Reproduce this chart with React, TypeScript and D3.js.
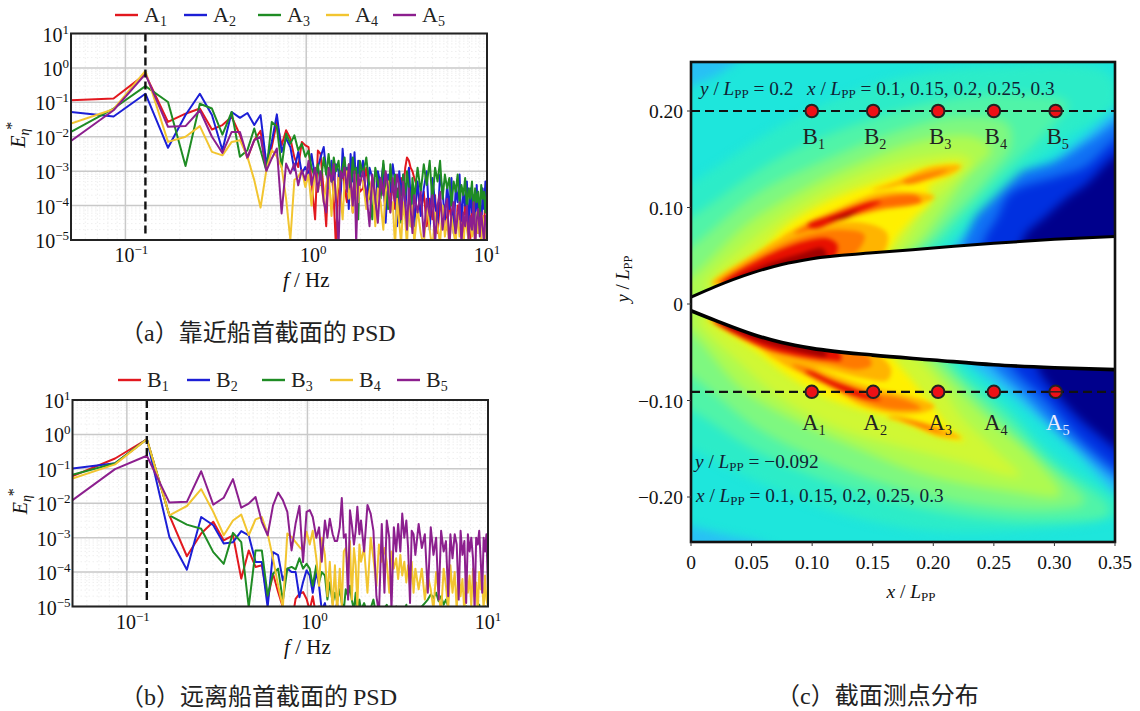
// App.tsx - wave energy spectra (a, b) and the wake map with probe positions (c)
import React from 'react';
import * as d3 from 'd3';

const SERIF = '"Liberation Serif", "Times New Roman", serif';
const CJK = '"Noto Sans CJK SC", sans-serif';

// --- Spectrum data: frequency in Hz, values as log10(E*) ---
const freqHz = [
  0.05, 0.086, 0.129, 0.172, 0.215, 0.258, 0.301, 0.344, 0.387, 0.43, 0.473, 0.516, 0.559, 0.602, 0.645, 0.688, 0.731, 0.774, 0.817, 0.86, 0.903, 0.946, 0.989,
  1.03, 1.07, 1.12, 1.16, 1.2, 1.25, 1.29, 1.33, 1.38, 1.42, 1.46, 1.51, 1.55, 1.59, 1.63, 1.68, 1.72, 1.76, 1.81, 1.85, 1.89, 1.94, 1.98,
  2.06, 2.15, 2.24, 2.32, 2.41, 2.49, 2.58, 2.67, 2.75, 2.84, 2.92, 3.01, 3.1, 3.18, 3.27, 3.35, 3.44, 3.53, 3.61, 3.7, 3.78, 3.87, 3.96,
  4.13, 4.3, 4.47, 4.64, 4.82, 4.99, 5.16, 5.33, 5.5, 5.68, 5.85, 6.02, 6.19, 6.36, 6.54, 6.71, 6.88, 7.05, 7.22, 7.4, 7.57, 7.74, 7.91, 8.08, 8.26, 8.43, 8.6, 8.77, 8.94, 9.12, 9.29, 9.46, 9.63, 9.8, 10,
];

const a1 = [-0.94, -0.89, -0.18, -1.57, -1.33, -1.18, -1.79, -1.66, -1.42, -1.95, -2.63, -2.1, -1.83, -2.97, -2.3, -1.57, -2.25, -1.81, -2.05, -2.6, -2.88, -2.15, -2.25,
  -2.3, -3.3, -4.4, -2.4, -2.5, -3.6, -4.6, -3, -2.9, -3.8, -5.2, -3.1, -3.3, -2.9, -3.5, -3.9, -3, -3.2, -4.2, -2.8, -3.4, -3.1, -3.6,
  -3.5, -2.9, -3.8, -3.2, -4, -3.1, -3.7, -3.3, -4.3, -3.2, -3.9, -3.3, -4.1, -3.5, -4.5, -3.2, -3.6, -2.9, -2.6, -2.7, -2.9, -3, -3.2,
  -3.5, -4.2, -3.6, -4.6, -3.8, -4.4, -3.7, -4.8, -3.9, -4.3, -4, -4.7, -3.8, -4.5, -4.1, -4.9, -4, -4.4, -4.2, -4.8, -3.9, -4.5, -4.3, -5, -4, -4.6, -4.2, -4.4, -4.8, -3.9, -4.6, -4.3, -4.9, -3.5, -4.2];
const a2 = [-1.28, -1.41, -0.75, -2.32, -1.37, -0.75, -1.37, -2.39, -1.28, -1.45, -1.31, -1.66, -1.37, -2.78, -2.15, -1.35, -2.44, -2.05, -2.3, -2.97, -2.44, -3.07, -2.88,
  -3.1, -2.5, -3.2, -2.9, -2.6, -2.3, -3, -3.5, -2.7, -3.4, -2.8, -3, -3.8, -2.35, -3.1, -2.9, -4.1, -2.5, -3.3, -2.45, -3.6, -2.7, -3.2,
  -2.7, -3.9, -2.9, -3.2, -4.3, -3, -3.4, -2.8, -4.5, -3.1, -3.6, -2.8, -3.3, -4.6, -3, -3.7, -3.1, -4.2, -3.3, -2.9, -3.8, -3.4, -4.6,
  -3.3, -4.3, -3.5, -3, -4.7, -3.2, -3.9, -4.5, -3.1, -3.6, -4.4, -3.4, -4.1, -3.2, -4.8, -3.5, -3.9, -3.1, -4.6, -3.6, -4, -3.3, -4.9, -3.5, -4.2, -3.7, -4.6, -3.4, -4.3, -3.8, -4.8, -3.5, -4.1, -3.3, -3.9];
const a3 = [-1.86, -1.18, -0.53, -0.99, -2.85, -1.04, -1.18, -1.94, -1.28, -2.58, -2.39, -1.76, -2.39, -2.99, -1.57, -1.71, -2.88, -1.91, -2.2, -1.96, -2.39, -2.2, -2.58,
  -2.4, -2.9, -3.2, -2.8, -3.4, -2.6, -3.1, -2.5, -3.3, -2.6, -3, -2.7, -3.3, -2.9, -2.6, -3.4, -2.8, -3.6, -2.6, -3.2, -2.9, -4.4, -2.7,
  -3.1, -2.6, -3.5, -4.4, -2.9, -3.3, -3.8, -2.7, -3.4, -4.1, -2.8, -3.6, -3.1, -3.9, -3.4, -4.5, -3.1, -3.7, -3, -3.5, -4.6, -3.2, -3.8,
  -2.9, -3.6, -2.8, -3.4, -2.7, -3.9, -2.9, -3.3, -2.7, -3.8, -3.1, -3.5, -3.2, -4, -3.3, -3.6, -3.1, -3.9, -3.4, -3.7, -3.2, -4.1, -3.5, -3.8, -3.3, -4.2, -3.5, -3.9, -3.6, -4.3, -3.4, -3.8, -3.6, -4.2, -3.5];
const a4 = [-1.62, -1.2, -0.09, -2.15, -2, -1.69, -2.44, -2.54, -2.15, -2.1, -2.58, -3.26, -4.06, -2.97, -2.39, -2.58, -2.88, -3.8, -5, -3.26, -3.16, -2.97, -3.46,
  -3.1, -4, -3, -3.6, -3.2, -3.9, -3.4, -3, -4.3, -3.3, -3.9, -3.2, -3.7, -4.4, -3.3, -3, -3.8, -3.5, -4.2, -3.1, -3.6, -3.9, -3.2,
  -3.3, -4.1, -3.6, -3.2, -4.6, -3.5, -3.9, -4.7, -3.6, -3.3, -4.2, -3.9, -5.2, -3.8, -4.5, -5.1, -3.9, -4.4, -5.2, -3.7, -4.6, -4, -5.1,
  -4.1, -4.8, -5.2, -3.9, -4.7, -5.3, -4.2, -4.6, -5.1, -4, -4.9, -4.4, -5.2, -4.3, -4.8, -5.1, -4.2, -4.9, -4.5, -5.3, -4.3, -4.7, -5, -4.4, -4.9, -4.5, -5.2, -4.2, -4.8, -4.6, -5.1, -4.3, -4.7, -5, -4.4];
const a5 = [-2.12, -1.23, -0.18, -1.71, -1.69, -1.23, -2, -2.47, -1.86, -1.86, -2.6, -2.1, -2, -2.99, -2.63, -2.34, -4.23, -2.78, -3.07, -2.78, -3.41, -2.97, -3.26,
  -2.7, -3.4, -2.9, -3.6, -3, -3.9, -4.2, -2.9, -3.3, -2.8, -3.8, -5.2, -3, -3.2, -2.9, -3.6, -2.8, -3.3, -4, -3, -5.1, -3.1, -3.4,
  -3, -3.6, -4.6, -3.1, -3.8, -4.5, -3.2, -3.7, -3, -3.5, -4.2, -3.2, -3.9, -3.1, -3.4, -4.4, -3.3, -3.9, -4.7, -3.5, -4.1, -4.8, -3.7,
  -4.2, -3.6, -4.9, -3.8, -4.3, -3.7, -5.1, -4, -3.6, -4.7, -4.1, -3.8, -5.2, -4.2, -3.9, -4.8, -4.3, -3.9, -5.1, -4.2, -4.6, -4, -5, -4.3, -4.7, -3.9, -5.2, -4.4, -4.1, -4.9, -4.2, -4.6, -5.1, -4.3, -4.5];

const b1 = [-1.21, -0.7, -0.14, -2.35, -3.54, -2.88, -2.54, -3.08, -2.93, -4.19, -3.37, -3.85, -3.8, -4.78, -4.05, -4.58, -5.02, -5.4, -5.5, -4.78, -4.63, -4.58, -4.78,
  -5.1, -4.7, -5.3, -5, -5.4, -5.6, -5.2, -5.5, -5.1, -5.6, -5.3, -5.5, -5.7, -5.2, -5.6, -5.4, -5.3, -5.6, -5.1, -5.5, -5.6, -5.3, -5.5,
  -5.6, -5.2, -5.7, -5.4, -5.6, -5.3, -5.7, -5.5, -5.6, -5.4, -5.7, -5.5, -5.6, -5.7, -5.4, -5.6, -5.7, -5.5, -5.6, -5.7, -5.4, -5.6, -5.7,
  -5.5, -5.7, -5.6, -5.5, -5.7, -5.6, -5.7, -5.5, -5.6, -5.7, -5.6, -5.5, -5.7, -5.6, -5.7, -5.5, -5.6, -5.7, -5.6, -5.5, -5.7, -5.6, -5.7, -5.5, -5.6, -5.7, -5.6, -5.5, -5.7, -5.6, -5.7, -5.5, -5.6, -5.7, -5.6];
const b2 = [-0.99, -0.84, -0.14, -2.98, -3.93, -2.4, -2.64, -3.17, -3.13, -2.81, -2.93, -3.71, -3.71, -5.02, -3.42, -3.51, -4.24, -3.9, -4, -4, -4.73, -4.29, -3.95,
  -4.1, -4.6, -4, -4.4, -5.1, -4.9, -5.3, -5, -5.4, -5.2, -4.9, -5.4, -5, -4.95, -5.3, -5.5, -5.1, -5.4, -5, -5.3, -5.5, -5.2, -5.4,
  -5.6, -5.3, -5.5, -5.6, -5.4, -5.7, -5.5, -5.6, -5.7, -5.4, -5.6, -5.7, -5.5, -5.6, -5.7, -5.4, -5.6, -5.7, -5.5, -5.6, -5.7, -5.4, -5.6,
  -5.7, -5.5, -5.6, -5.7, -5.6, -5.5, -5.7, -5.6, -5.7, -5.5, -5.6, -5.7, -5.6, -5.5, -5.7, -5.6, -5.7, -5.5, -5.6, -5.7, -5.6, -5.5, -5.7, -5.6, -5.7, -5.5, -5.6, -5.7, -5.6, -5.5, -5.7, -5.6, -5.7, -5.5, -5.6];
const b3 = [-1.17, -0.84, -0.14, -2.35, -2.62, -2.74, -3.42, -3.76, -2.86, -3.13, -5.02, -3.37, -3.37, -4.68, -4.05, -3.9, -4.83, -3.9, -3.85, -3.92, -3.6, -3.9, -3.76,
  -3.9, -4.4, -3.8, -4.3, -4, -4.1, -4.8, -4.3, -4.9, -4.6, -4.85, -4.5, -4.9, -5.1, -4.5, -4.7, -4.4, -4.8, -5.1, -4.6, -5.2, -4.8, -5.1,
  -4.9, -5.2, -5.05, -4.8, -5.3, -5, -5.2, -5.05, -4.95, -5.3, -5.1, -5.2, -5, -5.3, -5.05, -5.2, -5.1, -4.95, -5.3, -5.1, -5.2, -5.05, -5.3,
  -5.2, -5, -4.9, -4.8, -4.65, -4.75, -4.6, -4.85, -4.7, -4.95, -4.8, -5, -5.2, -5.05, -5.3, -5.1, -5.2, -5.05, -5.3, -5.1, -5, -5.2, -5.3, -5.05, -5.2, -5.1, -5.3, -5.05, -4.95, -5.2, -5.1, -5.3, -5, -5.2, -5.1];
const b4 = [-1.28, -0.87, -0.14, -2.35, -2.08, -1.59, -2.25, -2.93, -2.5, -2.33, -2.93, -2.47, -2.4, -2.88, -3.61, -4.39, -5.02, -2.88, -2.98, -3.13, -3.27, -3.37, -2.83,
  -3.2, -2.8, -3.6, -4.4, -3, -3.5, -4.7, -3.7, -5.1, -3.8, -5.2, -3.9, -5, -3.4, -3.3, -3.9, -3.1, -4.8, -3.3, -3.8, -5, -3.2, -3.7,
  -3.3, -4.6, -3, -3.6, -4.4, -3.2, -3.7, -3.3, -3.7, -4.6, -3.4, -3.9, -3.6, -4.2, -3.5, -4.1, -3.7, -4.3, -3.8, -4.4, -3.7, -4.6, -3.9,
  -4.5, -3.9, -4.8, -4.1, -4.5, -5.1, -4, -4.6, -5.2, -3.9, -4.4, -5.1, -3.8, -4.6, -4, -5.1, -3.9, -4.7, -4.2, -5.2, -4, -4.6, -4.1, -5, -3.9, -4.7, -4.3, -5.2, -4, -4.5, -4.3, -5.1, -4.1, -4.8, -5];
const b5 = [-1.91, -1.01, -0.62, -1.98, -1.96, -1.07, -2.04, -1.84, -1.3, -2.13, -2.01, -1.82, -2.54, -2.93, -2.06, -1.69, -1.91, -2.25, -3.37, -2.59, -2.08, -3.71, -2.25,
  -2.2, -2.4, -3, -2.7, -3.7, -2.5, -3, -2.45, -2.9, -3.1, -3.1, -2.7, -1.85, -3, -2.9, -4.8, -2.2, -2.6, -3.2, -2.8, -2.1, -2.9, -2.5,
  -3.4, -2.05, -2.3, -2.8, -4.7, -5.2, -2.6, -4.6, -2.5, -3, -5.1, -2.7, -3.4, -2.6, -3.4, -2.3, -3, -2.5, -3.3, -4.9, -2.8, -2.9, -3.5,
  -2.6, -3.3, -2.9, -4.6, -2.7, -3.5, -3, -4.8, -2.8, -3.4, -3.1, -4.7, -2.9, -3.6, -2.9, -3.2, -4.8, -2.8, -3.5, -3.1, -4.9, -2.9, -3.4, -3, -3.6, -5.1, -3, -3.2, -2.8, -3.7, -4.6, -3, -3.4, -2.9, -4.5];

const panelAValues = [a1, a2, a3, a4, a5];
const panelBValues = [b1, b2, b3, b4, b5];
const seriesColors = ['#e2181f', '#1c1fd6', '#1f8c24', '#f2c530', '#8c1f8e'];
const decadesX = [0.1, 1, 10];
const decadeLabelNudge = [6, 7, 0];
const decadesY = [1e-5, 1e-4, 1e-3, 1e-2, 1e-1, 1, 10];
const peakFreq = 0.129;

// --- Wake map data, x / Lpp and y / Lpp ---
const hullX = [0, 0.02, 0.05, 0.075, 0.1, 0.15, 0.2, 0.25, 0.3, 0.35];
const hullUpper = [0.007, 0.018, 0.032, 0.041, 0.047, 0.053, 0.058, 0.063, 0.067, 0.07];
const hullLower = [-0.007, -0.017, -0.031, -0.04, -0.046, -0.053, -0.058, -0.063, -0.066, -0.068];
const probeX = [0.0997, 0.1504, 0.204, 0.25, 0.301];
const probeRowB = 0.2;
const probeRowA = -0.091;
const xTicks = [0, 0.05, 0.1, 0.15, 0.2, 0.25, 0.3, 0.35];
const xTickLabels = ['0', '0.05', '0.10', '0.15', '0.20', '0.25', '0.30', '0.35'];
const yTicks = [0.2, 0.1, 0, -0.1, -0.2];
const yTickLabels = ['0.20', '0.10', '0', '\u22120.10', '\u22120.20'];

type Pt = [number, number];
// wide isobands, outermost first; each one is painted over the previous
const wideBands: [string, Pt[]][] = [
  ['#28c0f4', [[-0.03, 0.222], [0.012, 0.232], [0.036, 0.25], [0.06, 0.28], [-0.03, 0.28]]],
  ['#28c0f4', [[-0.03, -0.23], [0.03, -0.24], [0.07, -0.255], [0.08, -0.28], [-0.03, -0.28]]],
  // blue side, upper
  ['#28b8f8', [[0.37, 0.21], [0.32, 0.168], [0.292, 0.14], [0.258, 0.108], [0.22, 0.063], [0.205, 0.03], [0.37, 0.03]]],
  ['#1070f4', [[0.37, 0.198], [0.33, 0.17], [0.303, 0.149], [0.264, 0.132], [0.242, 0.104], [0.226, 0.066], [0.22, 0.03], [0.37, 0.03]]],
  ['#0030e0', [[0.37, 0.185], [0.35, 0.17], [0.325, 0.142], [0.303, 0.132], [0.264, 0.115], [0.253, 0.09], [0.242, 0.066], [0.238, 0.03], [0.37, 0.03]]],
  ['#00008c', [[0.37, 0.165], [0.35, 0.153], [0.327, 0.125], [0.311, 0.111], [0.292, 0.09], [0.275, 0.07], [0.27, 0.03], [0.37, 0.03]]],
  // blue side, lower
  ['#28b8f8', [[0.215, -0.03], [0.225, -0.055], [0.27, -0.1], [0.315, -0.15], [0.37, -0.21], [0.37, -0.03]]],
  ['#1070f4', [[0.235, -0.03], [0.245, -0.058], [0.275, -0.094], [0.311, -0.139], [0.37, -0.19], [0.37, -0.03]]],
  ['#0030e0', [[0.255, -0.03], [0.264, -0.063], [0.292, -0.098], [0.327, -0.146], [0.37, -0.18], [0.37, -0.03]]],
  ['#00008c', [[0.28, -0.03], [0.286, -0.066], [0.305, -0.098], [0.33, -0.129], [0.37, -0.16], [0.37, -0.03]]],
  // cyan-green to yellow, upper
  ['#2cecc8', [[-0.03, 0.105], [0, 0.125], [0.083, 0.191], [0.165, 0.232], [0.248, 0.246], [0.344, 0.239], [0.35, 0.208], [0.311, 0.173], [0.275, 0.139], [0.234, 0.09], [0.204, 0.056], [0.1, 0.02], [-0.03, 0.005]]],
  ['#50f4a8', [[-0.03, 0.07], [0, 0.09], [0.069, 0.149], [0.138, 0.187], [0.206, 0.211], [0.261, 0.218], [0.311, 0.208], [0.289, 0.173], [0.261, 0.139], [0.223, 0.09], [0.195, 0.056], [0.1, 0.02], [-0.03, 0.005]]],
  ['#7ef880', [[-0.03, 0.035], [0, 0.059], [0.055, 0.115], [0.11, 0.149], [0.165, 0.177], [0.22, 0.194], [0.261, 0.187], [0.264, 0.163], [0.248, 0.135], [0.215, 0.09], [0.187, 0.056], [0.1, 0.02], [-0.03, 0.005]]],
  ['#aefa50', [[-0.02, 0.012], [0, 0.028], [0.047, 0.084], [0.091, 0.118], [0.138, 0.146], [0.193, 0.17], [0.234, 0.173], [0.248, 0.16], [0.228, 0.132], [0.204, 0.09], [0.179, 0.054], [0.1, 0.02], [-0.02, 0.005]]],
  // cyan-green to yellow, lower
  ['#2cecc8', [[-0.03, -0.13], [0, -0.15], [0.055, -0.184], [0.138, -0.222], [0.22, -0.236], [0.35, -0.222], [0.37, -0.21], [0.344, -0.194], [0.297, -0.153], [0.261, -0.105], [0.226, -0.067], [0.215, -0.05], [0.1, -0.02], [-0.03, -0.005]]],
  ['#50f4a8', [[-0.03, -0.095], [0, -0.11], [0.055, -0.153], [0.138, -0.195], [0.22, -0.219], [0.289, -0.226], [0.344, -0.219], [0.344, -0.208], [0.297, -0.163], [0.259, -0.112], [0.223, -0.074], [0.206, -0.05], [0.1, -0.02], [-0.03, -0.005]]],
  ['#7ef880', [[-0.03, -0.055], [0, -0.074], [0.055, -0.129], [0.11, -0.163], [0.165, -0.188], [0.234, -0.208], [0.303, -0.213], [0.325, -0.205], [0.289, -0.16], [0.248, -0.112], [0.215, -0.07], [0.198, -0.05], [0.1, -0.02], [-0.03, -0.005]]],
  ['#aefa50', [[-0.02, -0.012], [0, -0.029], [0.041, -0.087], [0.083, -0.119], [0.138, -0.15], [0.193, -0.177], [0.261, -0.194], [0.305, -0.198], [0.283, -0.16], [0.239, -0.112], [0.206, -0.07], [0.19, -0.05], [0.1, -0.02], [-0.02, -0.005]]],
  // soft yellow-green shoulders
  ['#d0f834', [[0.011, 0.018], [0.047, 0.063], [0.083, 0.097], [0.124, 0.125], [0.179, 0.149], [0.226, 0.154], [0.232, 0.146], [0.215, 0.125], [0.195, 0.101], [0.188, 0.087], [0.165, 0.05], [0.1, 0.03], [0.03, 0.012]]],
  ['#d0f834', [[0.006, -0.015], [0.041, -0.062], [0.077, -0.1], [0.124, -0.13], [0.179, -0.15], [0.225, -0.165], [0.26, -0.178], [0.272, -0.178], [0.25, -0.15], [0.222, -0.115], [0.21, -0.091], [0.195, -0.067], [0.175, -0.048], [0.1, -0.03], [0.03, -0.012]]],
];

// yellow, just around the streaks
const yellowBands: [string, Pt[]][] = [
  ['#fff000', [[0.02, 0.02], [0.055, 0.052], [0.08, 0.082], [0.116, 0.108], [0.154, 0.126], [0.193, 0.141], [0.222, 0.145], [0.218, 0.137], [0.196, 0.121], [0.198, 0.107], [0.184, 0.09], [0.172, 0.073], [0.158, 0.05], [0.1, 0.03], [0.03, 0.012]]],
  ['#fff000', [[0.014, -0.013], [0.055, -0.05], [0.08, -0.074], [0.118, -0.1], [0.165, -0.118], [0.201, -0.135], [0.226, -0.142], [0.212, -0.127], [0.203, -0.112], [0.19, -0.091], [0.176, -0.07], [0.158, -0.048], [0.1, -0.03], [0.03, -0.012]]],
];

const streakBands: [string, Pt[]][] = [
  // upper streaks
  ['#ffb400', [[0.149, 0.118], [0.171, 0.128], [0.198, 0.142], [0.223, 0.143], [0.215, 0.135], [0.187, 0.127], [0.162, 0.12]]],
  ['#ff8000', [[0.175, 0.127], [0.2, 0.137], [0.212, 0.139], [0.2, 0.131], [0.178, 0.124]]],
  ['#ffb400', [[0.017, 0.021], [0.055, 0.054], [0.077, 0.07], [0.11, 0.082], [0.143, 0.084], [0.162, 0.073], [0.157, 0.05], [0.13, 0.04], [0.05, 0.024]]],
  ['#ff7a00', [[0.022, 0.021], [0.058, 0.051], [0.091, 0.07], [0.121, 0.077], [0.143, 0.072], [0.14, 0.059], [0.121, 0.04], [0.05, 0.024]]],
  ['#e81000', [[0.025, 0.021], [0.058, 0.047], [0.094, 0.065], [0.113, 0.068], [0.121, 0.061], [0.116, 0.045], [0.06, 0.026]]],
  ['#a00000', [[0.03, 0.022], [0.06, 0.04], [0.09, 0.052], [0.108, 0.058], [0.112, 0.05], [0.1, 0.04], [0.06, 0.028]]],
  ['#ffb400', [[0.072, 0.066], [0.094, 0.084], [0.121, 0.099], [0.154, 0.115], [0.182, 0.116], [0.201, 0.111], [0.187, 0.103], [0.154, 0.096], [0.121, 0.084], [0.091, 0.072]]],
  ['#ff6a00', [[0.085, 0.073], [0.105, 0.087], [0.132, 0.101], [0.16, 0.111], [0.187, 0.112], [0.19, 0.106], [0.157, 0.099], [0.127, 0.09], [0.099, 0.077]]],
  ['#e81000', [[0.096, 0.082], [0.121, 0.094], [0.149, 0.106], [0.157, 0.106], [0.146, 0.099], [0.121, 0.087], [0.102, 0.078]]],
  ['#a80000', [[0.113, 0.087], [0.129, 0.094], [0.138, 0.097], [0.127, 0.089]]],
  // lower streaks
  ['#ffb400', [[0.014, -0.015], [0.052, -0.042], [0.074, -0.06], [0.11, -0.067], [0.143, -0.077], [0.162, -0.079], [0.165, -0.067], [0.151, -0.05], [0.1, -0.038], [0.05, -0.024]]],
  ['#ff7a00', [[0.017, -0.017], [0.055, -0.044], [0.083, -0.055], [0.116, -0.063], [0.138, -0.068], [0.149, -0.063], [0.143, -0.05], [0.1, -0.038], [0.05, -0.024]]],
  ['#e81000', [[0.019, -0.018], [0.058, -0.044], [0.085, -0.053], [0.113, -0.058], [0.124, -0.058], [0.121, -0.048], [0.09, -0.038], [0.05, -0.025]]],
  ['#a00000', [[0.025, -0.02], [0.06, -0.04], [0.09, -0.05], [0.112, -0.054], [0.108, -0.045], [0.085, -0.038], [0.05, -0.025]]],
  ['#ffb400', [[0.072, -0.058], [0.094, -0.074], [0.121, -0.091], [0.14, -0.105], [0.165, -0.113], [0.193, -0.112], [0.201, -0.106], [0.187, -0.098], [0.165, -0.091], [0.138, -0.082], [0.105, -0.067], [0.083, -0.056]]],
  ['#ff7a00', [[0.083, -0.063], [0.11, -0.082], [0.138, -0.099], [0.165, -0.109], [0.19, -0.108], [0.176, -0.099], [0.149, -0.092], [0.118, -0.079], [0.094, -0.065]]],
  ['#e81000', [[0.094, -0.07], [0.118, -0.086], [0.143, -0.098], [0.157, -0.099], [0.138, -0.089], [0.116, -0.079], [0.099, -0.07]]],
  ['#ffb400', [[0.162, -0.117], [0.182, -0.125], [0.204, -0.137], [0.223, -0.139], [0.212, -0.131], [0.19, -0.122], [0.171, -0.116]]],
  ['#ff8000', [[0.172, -0.12], [0.195, -0.13], [0.208, -0.134], [0.195, -0.125]]],
];

const legendPanelA = { prefix: 'A', startX: [115, 184, 258, 326, 393], y: 15 };
const legendPanelB = { prefix: 'B', startX: [118, 187, 262, 330, 397], y: 380 };

function SupText({ x, y, base, sup, anchor = 'middle' }: any) {
  return (
    <text x={x} y={y} textAnchor={anchor} fontFamily={SERIF} fontSize={20} fill="#111">
      {base}
      <tspan dy={-8} fontSize={13}>{sup}</tspan>
    </text>
  );
}

function Sub({ x, y, base, sub, size = 20, fill = '#222' }: any) {
  return (
    <text x={x} y={y} fontFamily={SERIF} fontSize={size} fill={fill} textAnchor="middle">
      {base}
      <tspan dy={size * 0.22} fontSize={size * 0.62}>{sub}</tspan>
    </text>
  );
}

function Caption({ y, start, tag, text, tail }: any) {
  return (
    <text x={start} y={y} fontSize={24} fill="#222" fontFamily={CJK}>
      （<tspan fontFamily={SERIF}>{tag}</tspan>）{text}
      {tail ? <tspan fontFamily={SERIF} dx={5}>{tail}</tspan> : null}
    </text>
  );
}

function SpectrumPanel({ id, values, box, legend, caption, captionY }: any) {
  const { left, right, top, bottom } = box;
  const x = d3.scaleLog().domain([0.05, 10]).range([left, right]);
  const y = d3.scaleLog().domain([1e-5, 10]).range([bottom, top]);
  const minorX = x.ticks().filter((t: number) => !decadesX.includes(t));
  const minorY = y.ticks().filter((t: number) => !decadesY.some((d) => Math.abs(d / t - 1) < 1e-6));
  const line = d3.line<number>()
    .x((_, i) => x(freqHz[i]))
    .y((v) => y(Math.pow(10, v)));
  return (
    <g>
      <clipPath id={id}><rect x={left} y={top} width={right - left} height={bottom - top} /></clipPath>
      {minorX.map((t: number) => <line key={t} x1={x(t)} x2={x(t)} y1={top} y2={bottom} stroke="#ebebeb" strokeWidth={0.8} strokeDasharray="1.5 2.5" />)}
      {minorY.map((t: number) => <line key={t} x1={left} x2={right} y1={y(t)} y2={y(t)} stroke="#ebebeb" strokeWidth={0.8} strokeDasharray="1.5 2.5" />)}
      {decadesX.map((t) => <line key={t} x1={x(t)} x2={x(t)} y1={top} y2={bottom} stroke="#c9c9c9" strokeWidth={1.5} />)}
      {decadesY.map((t) => <line key={t} x1={left} x2={right} y1={y(t)} y2={y(t)} stroke="#c9c9c9" strokeWidth={1.5} />)}
      <g clipPath={`url(#${id})`}>
        {values.map((v: number[], i: number) => (
          <path key={i} d={line(v) as string} fill="none" stroke={seriesColors[i]} strokeWidth={2} strokeLinejoin="round" />
        ))}
      </g>
      <line x1={x(peakFreq)} x2={x(peakFreq)} y1={top} y2={bottom - 5} stroke="#111" strokeWidth={2.4} strokeDasharray="8 4" />
      <rect x={left} y={top} width={right - left} height={bottom - top} fill="none" stroke="#222" strokeWidth={2} />
      {decadesY.map((t) => (
        <SupText key={t} x={left - 2} y={y(t) + 8} base="10" sup={t < 1 ? `\u2212${Math.round(-Math.log10(t))}` : `${Math.round(Math.log10(t))}`} anchor="end" />
      ))}
      {decadesX.map((t, i) => (
        <SupText key={t} x={x(t) + decadeLabelNudge[i]} y={bottom + 22} base="10" sup={t < 1 ? '\u22121' : `${Math.round(Math.log10(t))}`} />
      ))}
      <text x={x(1)} y={bottom + 47} textAnchor="middle" fontFamily={SERIF} fontSize={21} fill="#111">
        <tspan fontStyle="italic">f</tspan> / Hz
      </text>
      <text transform={`translate(${left - 46},${(top + bottom) / 2 - 2}) rotate(-90)`} textAnchor="middle" fontFamily={SERIF} fontSize={20} fill="#111">
        <tspan fontStyle="italic">E</tspan>
        <tspan fontStyle="italic" dy={4} fontSize={14}>{'\u03B7'}</tspan>
        <tspan dy={-12} dx={-1} fontSize={16}>*</tspan>
      </text>
      {legend.startX.map((sx: number, i: number) => (
        <g key={i}>
          <line x1={sx} x2={sx + 23} y1={legend.y} y2={legend.y} stroke={seriesColors[i]} strokeWidth={2.4} />
          <text x={sx + 29} y={legend.y + 7} fontFamily={SERIF} fontSize={22} fill="#222">
            {legend.prefix}
            <tspan dy={4} fontSize={14}>{i + 1}</tspan>
          </text>
        </g>
      ))}
      <Caption y={captionY} start={120} {...caption} />
    </g>
  );
}

function WakeMap() {
  const left = 691, right = 1115, top = 62, bottom = 542;
  const x = d3.scaleLinear().domain([0, 0.35]).range([left, right]);
  const y = d3.scaleLinear().domain([0, 0.2]).range([304, 111]);
  const band = d3.line<Pt>().x((d) => x(d[0])).y((d) => y(d[1])).curve(d3.curveCatmullRomClosed.alpha(0.5));
  const hullEdge = d3.line<number>().x((_, i) => x(hullX[i])).y((d) => y(d)).curve(d3.curveMonotoneX);
  const hullArea = d3.area<number>().x((_, i) => x(hullX[i])).y0((_, i) => y(hullLower[i])).y1((_, i) => y(hullUpper[i])).curve(d3.curveMonotoneX);
  const note = (px: number, py: number, pre: string, tail: string) => (
    <text x={px} y={py} fontFamily={SERIF} fontSize={19.3} fill="#123">
      <tspan fontStyle="italic">{pre}</tspan> / <tspan fontStyle="italic">L</tspan>
      <tspan dy={3} fontSize={13}>PP</tspan>
      <tspan dy={-3}> {tail}</tspan>
    </text>
  );
  const layer = (bands: [string, Pt[]][], id: string, blur: number) => (
    <g>
      <filter id={id} x="-10%" y="-10%" width="120%" height="120%" colorInterpolationFilters="sRGB">
        <feGaussianBlur stdDeviation={blur} />
      </filter>
      <g filter={`url(#${id})`}>
        {bands.map(([color, pts], i) => <path key={i} d={band(pts) as string} fill={color} />)}
      </g>
    </g>
  );
  return (
    <g>
      <clipPath id="wake"><rect x={left} y={top} width={right - left} height={bottom - top} /></clipPath>
      <g clipPath="url(#wake)">
        <rect x={left} y={top} width={right - left} height={bottom - top} fill="#1ee6dc" />
        {layer(wideBands, 'soft-wide', 5)}
        {layer(yellowBands, 'soft-yellow', 3.5)}
        {layer(streakBands, 'soft-streak', 2)}
        <path d={hullArea(hullUpper) as string} fill="#fff" />
        <path d={hullEdge(hullUpper) as string} fill="none" stroke="#000" strokeWidth={3} />
        <path d={hullEdge(hullLower) as string} fill="none" stroke="#000" strokeWidth={3.6} />
      </g>
      <rect x={left} y={top} width={right - left} height={bottom - top} fill="none" stroke="#111" strokeWidth={2.6} />
      {xTicks.map((t, i) => (
        <g key={t}>
          <line x1={x(t)} x2={x(t)} y1={bottom} y2={bottom + 4} stroke="#333" />
          <text x={x(t)} y={bottom + 27} textAnchor="middle" fontFamily={SERIF} fontSize={19.5} fill="#111">{xTickLabels[i]}</text>
        </g>
      ))}
      {yTicks.map((t, i) => (
        <g key={t}>
          <line x1={left - 4} x2={left} y1={y(t)} y2={y(t)} stroke="#333" />
          <text x={left - 8} y={y(t) + 7} textAnchor="end" fontFamily={SERIF} fontSize={19.5} fill="#111">{yTickLabels[i]}</text>
        </g>
      ))}
      <text x={911} y={598} textAnchor="middle" fontFamily={SERIF} fontSize={19.5} fill="#111">
        <tspan fontStyle="italic">x</tspan> / <tspan fontStyle="italic">L</tspan><tspan dy={3} fontSize={13}>PP</tspan>
      </text>
      <text transform="translate(629,279) rotate(-90)" textAnchor="middle" fontFamily={SERIF} fontSize={18.5} fill="#111">
        <tspan fontStyle="italic">y</tspan> / <tspan fontStyle="italic">L</tspan><tspan dy={3} fontSize={12.5}>PP</tspan>
      </text>
      <line x1={left} x2={right} y1={y(probeRowB)} y2={y(probeRowB)} stroke="#111" strokeWidth={2.2} strokeDasharray="9 5" />
      <line x1={left} x2={right} y1={y(probeRowA)} y2={y(probeRowA)} stroke="#111" strokeWidth={2.2} strokeDasharray="9 5" />
      {probeX.map((t, i) => (
        <g key={t}>
          <circle cx={x(t)} cy={y(probeRowB)} r={6.3} fill="#ee1016" stroke="#222" strokeWidth={2} />
          <circle cx={x(t)} cy={y(probeRowA)} r={6.3} fill="#ee1016" stroke="#222" strokeWidth={2} />
          {i === 4 ? (
            <g stroke="#222" strokeWidth={1.4}>
              <line x1={x(t) - 6} x2={x(t) + 6} y1={y(probeRowB)} y2={y(probeRowB)} />
              <line x1={x(t) - 6} x2={x(t) + 6} y1={y(probeRowA)} y2={y(probeRowA)} />
            </g>
          ) : null}
          <Sub x={x(t) + 2} y={y(probeRowB) + 33} base="B" sub={i + 1} size={23} />
          <Sub x={x(t) + 2} y={y(probeRowA) + 38} base="A" sub={i + 1} size={23} fill={i === 4 ? '#e8ecff' : '#222'} />
        </g>
      ))}
      {note(700, 95, 'y', '= 0.2')}
      {note(807, 95, 'x', '= 0.1, 0.15, 0.2, 0.25, 0.3')}
      {note(695, 468, 'y', '= \u22120.092')}
      {note(696, 502, 'x', '= 0.1, 0.15, 0.2, 0.25, 0.3')}
    </g>
  );
}

export default function App() {
  return (
    <svg width={1140} height={711} style={{ position: 'absolute', left: 0, top: 0, background: '#fff' }}>
      <SpectrumPanel
        id="panel-a"
        values={panelAValues}
        box={{ left: 71, right: 487, top: 33.5, bottom: 240 }}
        legend={legendPanelA}
        caption={{ tag: 'a', text: '靠近船首截面的', tail: 'PSD' }}
        captionY={341}
      />
      <SpectrumPanel
        id="panel-b"
        values={panelBValues}
        box={{ left: 72.5, right: 488, top: 400, bottom: 606.5 }}
        legend={legendPanelB}
        caption={{ tag: 'b', text: '远离船首截面的', tail: 'PSD' }}
        captionY={705}
      />
      <WakeMap />
      <Caption y={704} start={776} tag="c" text="截面测点分布" />
    </svg>
  );
}
